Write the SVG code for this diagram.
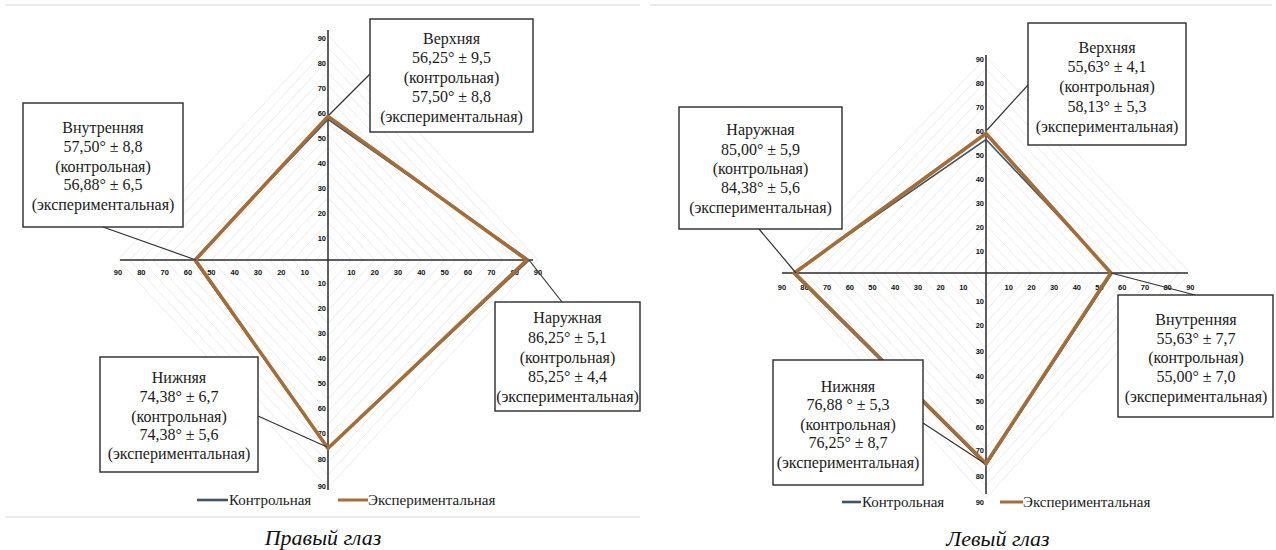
<svg xmlns="http://www.w3.org/2000/svg" width="1276" height="550" viewBox="0 0 1276 550">
<style>
.grid{fill:none;stroke:#ececec;stroke-width:1}
.axis{stroke:#2a2a2a;stroke-width:1.5;fill:none}
.tick{font-family:"Liberation Sans",Arial,sans-serif;font-size:7.5px;font-weight:bold;fill:#111}
.tl{text-anchor:end}
.tc{text-anchor:middle}
.ctrl{fill:none;stroke:#3f5466;stroke-width:1.6;stroke-linejoin:miter}
.exp{fill:none;stroke:#a36d3a;stroke-width:3.6;stroke-linejoin:miter}
.box{fill:#fff;stroke:#2a2a2a;stroke-width:1.4}
.bt{font-family:"Liberation Serif","Times New Roman",serif;font-size:16px;fill:#1a1a1a;text-anchor:middle}
.lead{stroke:#333;stroke-width:1.2;fill:none}
.leg{font-family:"Liberation Serif","Times New Roman",serif;font-size:15px;fill:#1a1a1a}
.cap{font-family:"Liberation Serif","Times New Roman",serif;font-size:22px;font-style:italic;fill:#111;text-anchor:middle}
.frame{stroke:#e6e6e6;stroke-width:1.5}
</style>
<rect width="1276" height="550" fill="#fff"/>
<line class="frame" x1="5" y1="5" x2="640" y2="5"/>
<line class="frame" x1="650" y1="5" x2="1272" y2="5"/>
<line class="frame" x1="5" y1="517" x2="640" y2="517"/>

<!-- LEFT CHART (Правый глаз) -->
<g id="chart-right-eye">
  <g class="grid">
    <polygon points="316.3,260 328,247.5 339.7,260 328,272.7"/>
    <polygon points="304.7,260 328,235 351.3,260 328,285.3"/>
    <polygon points="293,260 328,222.5 363,260 328,298"/>
    <polygon points="281.3,260 328,210 374.7,260 328,310.6"/>
    <polygon points="269.7,260 328,197.5 386.3,260 328,323.3"/>
    <polygon points="258,260 328,185 398,260 328,335.9"/>
    <polygon points="246.3,260 328,172.5 409.7,260 328,348.6"/>
    <polygon points="234.7,260 328,160 421.3,260 328,361.2"/>
    <polygon points="223,260 328,147.5 433,260 328,373.9"/>
    <polygon points="211.3,260 328,135 444.7,260 328,386.5"/>
    <polygon points="199.7,260 328,122.5 456.3,260 328,399.2"/>
    <polygon points="188,260 328,110 468,260 328,411.8"/>
    <polygon points="176.3,260 328,97.5 479.7,260 328,424.5"/>
    <polygon points="164.7,260 328,85 491.3,260 328,437.1"/>
    <polygon points="153,260 328,72.5 503,260 328,449.8"/>
    <polygon points="141.3,260 328,60 514.7,260 328,462.4"/>
    <polygon points="129.7,260 328,47.5 526.3,260 328,475.1"/>
    <polygon points="118,260 328,35 538,260 328,487.7"/>
  </g>
  <line class="axis" x1="328" y1="30" x2="328" y2="490"/>
  <line class="axis" x1="120" y1="260" x2="533" y2="260"/>
  <g class="tick tc">
    <text x="118" y="275">90</text><text x="141.3" y="275">80</text><text x="164.7" y="275">70</text>
    <text x="188" y="275">60</text><text x="211.3" y="275">50</text><text x="234.7" y="275">40</text>
    <text x="258" y="275">30</text><text x="281.3" y="275">20</text><text x="304.7" y="275">10</text>
    <text x="351.3" y="275">10</text><text x="374.7" y="275">20</text><text x="398" y="275">30</text>
    <text x="421.3" y="275">40</text><text x="444.7" y="275">50</text><text x="468" y="275">60</text>
    <text x="491.3" y="275">70</text><text x="514.7" y="275">80</text><text x="538" y="275">90</text>
  </g>
  <g class="tick tl">
    <text x="326" y="240.5">10</text><text x="326" y="215.5">20</text><text x="326" y="190.5">30</text>
    <text x="326" y="165.5">40</text><text x="326" y="140.5">50</text><text x="326" y="115.5">60</text>
    <text x="326" y="90.5">70</text><text x="326" y="65.5">80</text><text x="326" y="40.5">90</text>
    <text x="326" y="285.5">10</text><text x="326" y="310.5">20</text><text x="326" y="335.5">30</text>
    <text x="326" y="360.5">40</text><text x="326" y="385.5">50</text><text x="326" y="410.5">60</text>
    <text x="326" y="436">70</text><text x="326" y="462">80</text><text x="326" y="489">90</text>
  </g>
  <polygon class="ctrl" points="193.9,260 328,119.4 529.2,260 328,448.2"/>
  <polygon class="exp" points="195.3,260 328,116.3 526.9,260 328,448.2"/>
  <g id="legend-left">
    <line x1="197" y1="500" x2="228" y2="500" stroke="#3f5466" stroke-width="2.6"/>
    <text class="leg" x="229" y="505">Контрольная</text>
    <line x1="338" y1="500" x2="368" y2="500" stroke="#a36d3a" stroke-width="3"/>
    <text class="leg" x="368" y="505">Экспериментальная</text>
  </g>
  <text class="cap" x="323" y="545">Правый глаз</text>
</g>

<!-- RIGHT CHART (Левый глаз) -->
<g id="chart-left-eye">
  <g class="grid">
    <polygon points="974.65,273 986,261 997.35,273 986,285.5"/>
    <polygon points="963.3,273 986,249 1008.7,273 986,298"/>
    <polygon points="951.95,273 986,237 1020.05,273 986,310.5"/>
    <polygon points="940.6,273 986,225 1031.4,273 986,323"/>
    <polygon points="929.25,273 986,213 1042.75,273 986,335.5"/>
    <polygon points="917.9,273 986,201 1054.1,273 986,348"/>
    <polygon points="906.55,273 986,189 1065.45,273 986,360.5"/>
    <polygon points="895.2,273 986,177 1076.8,273 986,373"/>
    <polygon points="883.85,273 986,165 1088.15,273 986,385.5"/>
    <polygon points="872.5,273 986,153 1099.5,273 986,398"/>
    <polygon points="861.15,273 986,141 1110.85,273 986,410.5"/>
    <polygon points="849.8,273 986,129 1122.2,273 986,423"/>
    <polygon points="838.45,273 986,117 1133.55,273 986,435.5"/>
    <polygon points="827.1,273 986,105 1144.9,273 986,448"/>
    <polygon points="815.75,273 986,93 1156.25,273 986,460.5"/>
    <polygon points="804.4,273 986,81 1167.6,273 986,473"/>
    <polygon points="793.05,273 986,69 1178.95,273 986,485.5"/>
    <polygon points="781.7,273 986,57 1190.3,273 986,498"/>
  </g>
  <line class="axis" x1="986" y1="55" x2="986" y2="494"/>
  <line class="axis" x1="782" y1="273" x2="1188" y2="273"/>
  <g class="tick tc">
    <text x="782" y="290">90</text><text x="804.4" y="290">80</text><text x="827.1" y="290">70</text>
    <text x="849.8" y="290">60</text><text x="872.5" y="290">50</text><text x="895.2" y="290">40</text>
    <text x="917.9" y="290">30</text><text x="940.6" y="290">20</text><text x="963.3" y="290">10</text>
    <text x="1008.7" y="290">10</text><text x="1031.4" y="290">20</text><text x="1054.1" y="290">30</text>
    <text x="1076.8" y="290">40</text><text x="1099.5" y="290">50</text><text x="1122.2" y="290">60</text>
    <text x="1144.9" y="290">70</text><text x="1167.6" y="290">80</text><text x="1190.3" y="290">90</text>
  </g>
  <g class="tick tl">
    <text x="984" y="253.5">10</text><text x="984" y="229.5">20</text><text x="984" y="205.5">30</text>
    <text x="984" y="181.5">40</text><text x="984" y="157.5">50</text><text x="984" y="133.5">60</text>
    <text x="984" y="109.5">70</text><text x="984" y="85.5">80</text><text x="984" y="61.5">90</text>
    <text x="984" y="304">10</text><text x="984" y="328">20</text><text x="984" y="354">30</text>
    <text x="984" y="379">40</text><text x="984" y="404">50</text><text x="984" y="430">60</text>
    <text x="984" y="453">70</text><text x="984" y="479">80</text><text x="984" y="505">90</text>
  </g>
  <polygon class="ctrl" points="793,273 986,139.5 1112.3,273 986,465.2"/>
  <polygon class="exp" points="794.5,273 986,133.5 1110.9,273 986,463.6"/>
  <g id="legend-right">
    <line x1="842" y1="502" x2="861" y2="502" stroke="#3f5466" stroke-width="2.6"/>
    <text class="leg" x="862" y="507">Контрольная</text>
    <line x1="1000" y1="502" x2="1023" y2="502" stroke="#a36d3a" stroke-width="3"/>
    <text class="leg" x="1023" y="507">Экспериментальная</text>
  </g>
  <text class="cap" x="998" y="546">Левый глаз</text>
</g>

<!-- connectors (leader lines) -->
<g id="connectors" class="lead">
  <line x1="329" y1="115" x2="370" y2="74"/>
  <line x1="103" y1="227" x2="196" y2="260"/>
  <line x1="529" y1="260" x2="562" y2="302"/>
  <line x1="258" y1="416" x2="327" y2="447"/>
  <line x1="759" y1="229" x2="796" y2="273"/>
  <line x1="987" y1="130" x2="1028" y2="85"/>
  <line x1="1111" y1="273" x2="1195" y2="295"/>
  <line x1="923" y1="423" x2="984" y2="463"/>
</g>

<!-- nodes -->
<g id="node-re-upper">
  <rect class="box" x="370" y="19" width="163" height="113"/>
  <text class="bt" x="451.5" y="44">Верхняя</text>
  <text class="bt" x="451.5" y="63">56,25° ± 9,5</text>
  <text class="bt" x="451.5" y="83">(контрольная)</text>
  <text class="bt" x="451.5" y="102">57,50° ± 8,8</text>
  <text class="bt" x="451.5" y="122">(экспериментальная)</text>
</g>
<g id="node-re-inner">
  <rect class="box" x="23" y="103" width="160" height="124"/>
  <text class="bt" x="103" y="133">Внутренняя</text>
  <text class="bt" x="103" y="152">57,50° ± 8,8</text>
  <text class="bt" x="103" y="172">(контрольная)</text>
  <text class="bt" x="103" y="190">56,88° ± 6,5</text>
  <text class="bt" x="103" y="210">(экспериментальная)</text>
</g>
<g id="node-re-outer">
  <rect class="box" x="495" y="302" width="145" height="109"/>
  <text class="bt" x="567.5" y="323">Наружная</text>
  <text class="bt" x="567.5" y="343">86,25° ± 5,1</text>
  <text class="bt" x="567.5" y="363">(контрольная)</text>
  <text class="bt" x="567.5" y="382">85,25° ± 4,4</text>
  <text class="bt" x="567.5" y="402">(экспериментальная)</text>
</g>
<g id="node-re-lower">
  <rect class="box" x="100" y="357" width="158" height="115"/>
  <text class="bt" x="179" y="383">Нижняя</text>
  <text class="bt" x="179" y="402">74,38° ± 6,7</text>
  <text class="bt" x="179" y="422">(контрольная)</text>
  <text class="bt" x="179" y="440">74,38° ± 5,6</text>
  <text class="bt" x="179" y="459">(экспериментальная)</text>
</g>
<g id="node-le-outer">
  <rect class="box" x="679" y="107" width="163" height="122"/>
  <text class="bt" x="760.5" y="135">Наружная</text>
  <text class="bt" x="760.5" y="155">85,00° ± 5,9</text>
  <text class="bt" x="760.5" y="174">(контрольная)</text>
  <text class="bt" x="760.5" y="193">84,38° ± 5,6</text>
  <text class="bt" x="760.5" y="213">(экспериментальная)</text>
</g>
<g id="node-le-upper">
  <rect class="box" x="1028" y="23" width="158" height="122"/>
  <text class="bt" x="1107" y="53">Верхняя</text>
  <text class="bt" x="1107" y="72">55,63° ± 4,1</text>
  <text class="bt" x="1107" y="92">(контрольная)</text>
  <text class="bt" x="1107" y="112">58,13° ± 5,3</text>
  <text class="bt" x="1107" y="132">(экспериментальная)</text>
</g>
<g id="node-le-inner">
  <rect class="box" x="1118" y="295" width="155" height="122"/>
  <text class="bt" x="1196" y="325">Внутренняя</text>
  <text class="bt" x="1196" y="344">55,63° ± 7,7</text>
  <text class="bt" x="1196" y="363">(контрольная)</text>
  <text class="bt" x="1196" y="382">55,00° ± 7,0</text>
  <text class="bt" x="1196" y="402">(экспериментальная)</text>
</g>
<g id="node-le-lower">
  <rect class="box" x="773" y="360" width="150" height="125"/>
  <text class="bt" x="848" y="392">Нижняя</text>
  <text class="bt" x="848" y="410">76,88 ° ± 5,3</text>
  <text class="bt" x="848" y="430">(контрольная)</text>
  <text class="bt" x="848" y="448">76,25° ± 8,7</text>
  <text class="bt" x="848" y="468">(экспериментальная)</text>
</g>
</svg>
